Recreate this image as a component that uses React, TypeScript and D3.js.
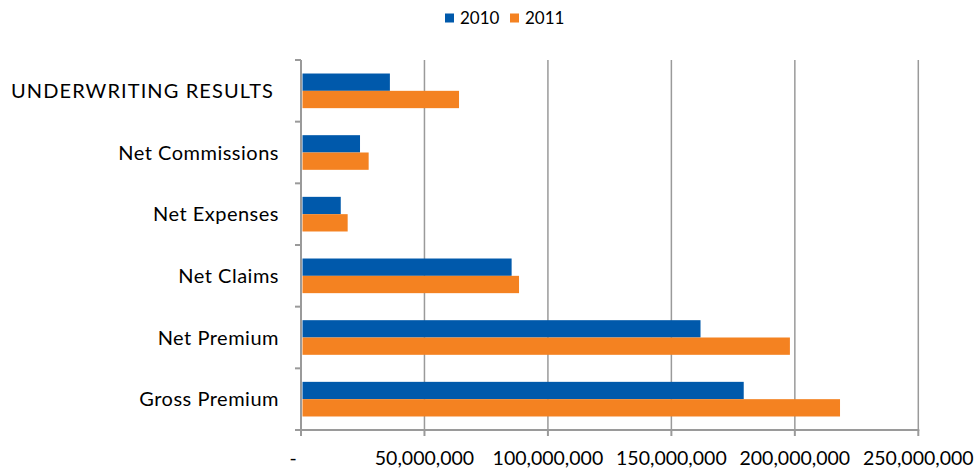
import React from "react";
import * as d3 from "d3";

const categories = [
  "UNDERWRITING RESULTS",
  "Net Commissions",
  "Net Expenses",
  "Net Claims",
  "Net Premium",
  "Gross Premium",
];
const seriesNames = ["2010", "2011"];
const values2010 = [36000000, 23900000, 16100000, 85300000, 161800000, 179300000];
const values2011 = [64000000, 27400000, 18900000, 88300000, 198000000, 218300000];
const xTicks = [0, 50000000, 100000000, 150000000, 200000000, 250000000];
const xTickLabels = ["-", "50,000,000", "100,000,000", "150,000,000", "200,000,000", "250,000,000"];
const colors = ["#0059AB", "#F48221"];

const W = 977;
const H = 472;
const FONT = "Lato, 'Open Sans', sans-serif";

export default function App() {
  const left = 301;
  const right = 918.3;
  const top = 60;
  const bottom = 430;

  const x = d3.scaleLinear().domain([0, 250000000]).range([left, right]);
  const y = d3.scaleBand<string>().domain(categories).range([top, bottom]).padding(0);
  const inner = d3
    .scaleBand<string>()
    .domain(seriesNames)
    .range([0, y.step()])
    .paddingInner(0)
    .paddingOuter(0.78);

  const series = [values2010, values2011];
  const gridColor = "#9a9a9a";

  return (
    <svg
      width={W}
      height={H}
      style={{ position: "absolute", left: 0, top: 0, background: "#fff" }}
      fontFamily={FONT}
    >
      {xTicks.slice(1).map((t) => (
        <line key={"g" + t} x1={x(t)} x2={x(t)} y1={top} y2={bottom} stroke={gridColor} strokeWidth={1.5} />
      ))}
      {categories.map((c, i) =>
        seriesNames.map((s, k) => (
          <rect
            key={c + s}
            x={x(0) + 1.5}
            y={(y(c) as number) + (inner(s) as number)}
            width={x(series[k][i]) - x(0) - 1.5}
            height={inner.bandwidth()}
            fill={colors[k]}
          />
        ))
      )}
      <line x1={left} x2={left} y1={top} y2={bottom + 1} stroke={gridColor} strokeWidth={2} />
      {d3.range(categories.length + 1).map((i) => {
        const yy = top + i * y.step();
        return <line key={"yt" + i} x1={left - 6} x2={left} y1={yy} y2={yy} stroke={gridColor} strokeWidth={2} />;
      })}
      <line x1={left - 1} x2={right + 1} y1={bottom} y2={bottom} stroke={gridColor} strokeWidth={2} />
      {xTicks.map((t) => (
        <line key={"xt" + t} x1={x(t)} x2={x(t)} y1={bottom} y2={bottom + 6} stroke={gridColor} strokeWidth={2} />
      ))}
      {xTicks.map((t, i) => (
        <text
          key={"xl" + t}
          x={i === 0 ? x(t) - 8 : x(t)}
          y={465}
          textAnchor="middle"
          fontSize={19.5}
          fill="#000"
        >
          {xTickLabels[i]}
        </text>
      ))}
      {categories.map((c, i) => (
        <text
          key={"cl" + c}
          x={i === 0 ? 274 : 279}
          y={(y(c) as number) + y.bandwidth() / 2 + 7}
          textAnchor="end"
          fontSize={20}
          letterSpacing={i === 0 ? 1.1 : 0.5}
          fill="#000"
        >
          {c}
        </text>
      ))}
      {seriesNames.map((s, k) => {
        const lx = k === 0 ? 445 : 510;
        return (
          <g key={"lg" + s}>
            <rect x={lx} y={13.5} width={9} height={9} fill={colors[k]} />
            <text x={lx + 15} y={24} fontSize={17} fill="#000">
              {s}
            </text>
          </g>
        );
      })}
    </svg>
  );
}
